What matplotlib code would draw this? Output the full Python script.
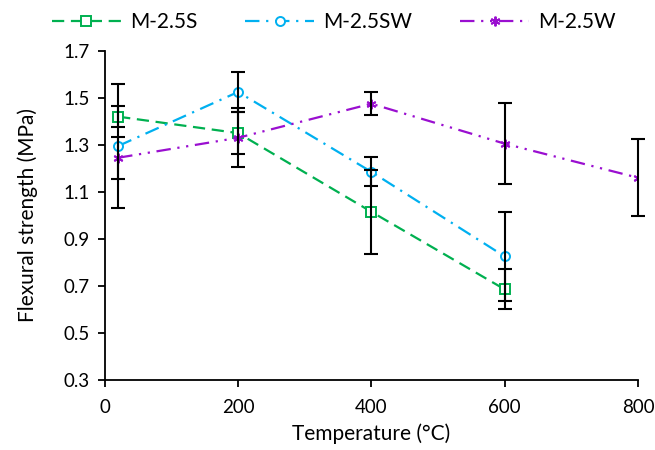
from matplotlib import pyplot as plt
import numpy as np

plt.rcParams['font.family'] = ['Lato', 'DejaVu Sans']

temp_s = [20, 200, 400, 600]
val_s = [1.42, 1.35, 1.015, 0.685]
err_s = [0.045, 0.09, 0.18, 0.085]

temp_sw = [20, 200, 400, 600]
val_sw = [1.295, 1.525, 1.185, 0.825]
err_sw = [0.265, 0.085, 0.062, 0.19]

temp_w = [20, 200, 400, 600, 800]
val_w = [1.245, 1.33, 1.475, 1.305, 1.16]
err_w = [0.09, 0.125, 0.05, 0.172, 0.163]

green = '#00B050'
blue = '#00B0F0'
purple = '#9A0FD0'

fig = plt.figure(figsize=(6.55, 4.5), dpi=100)
ax = fig.add_axes([0.160, 0.156, 0.814, 0.731])

ax.plot(temp_s, val_s, color=green, lw=1.6, dashes=(5.5, 3),
        marker='s', ms=6.5, mfc='white', mec=green, mew=1.4, label='M-2.5S', zorder=3)
ax.plot(temp_sw, val_sw, color=blue, lw=1.6, dashes=(6.5, 3, 1, 3),
        marker='o', ms=6.5, mfc='white', mec=blue, mew=1.4, label='M-2.5SW', zorder=3)
ax.plot(temp_w, val_w, color=purple, lw=1.6, dashes=(6.5, 3, 1, 3, 1, 3),
        marker=(6, 2, 0), ms=7, mec=purple, mew=1.4, label='M-2.5W', zorder=3)

for t, v, e in [(temp_s, val_s, err_s), (temp_sw, val_sw, err_sw), (temp_w, val_w, err_w)]:
    eb = ax.errorbar(t, v, yerr=e, fmt='none', ecolor='black', elinewidth=1.5,
                     capsize=5, capthick=1.5, zorder=4)
    for art in eb.lines[1] + eb.lines[2]:
        art.set_clip_on(False)

ax.set_xlim(0, 800)
ax.set_ylim(0.3, 1.7)
ax.set_xticks(np.arange(0, 801, 200))
ax.set_yticks(np.arange(0.3, 1.71, 0.2))
ax.set_yticklabels(['%.1f' % y for y in np.arange(0.3, 1.71, 0.2)])
ax.spines['top'].set_visible(False)
ax.spines['right'].set_visible(False)
ax.spines['left'].set_linewidth(1.3)
ax.spines['bottom'].set_linewidth(1.3)
ax.tick_params(direction='out', length=5, width=1.3, labelsize=13.5)
ax.tick_params(axis='x', pad=9)
ax.tick_params(axis='y', pad=6)
ax.set_xlabel('Temperature (°C)', fontsize=15, labelpad=5)
ax.set_ylabel('Flexural strength (MPa)', fontsize=15, labelpad=18)

fig.legend(loc='upper center', bbox_to_anchor=(0.51, 1.015), ncol=3, frameon=False,
           fontsize=15, handlelength=3.3, columnspacing=2.3, handletextpad=0.45)

plt.savefig('out.png', dpi=100)
